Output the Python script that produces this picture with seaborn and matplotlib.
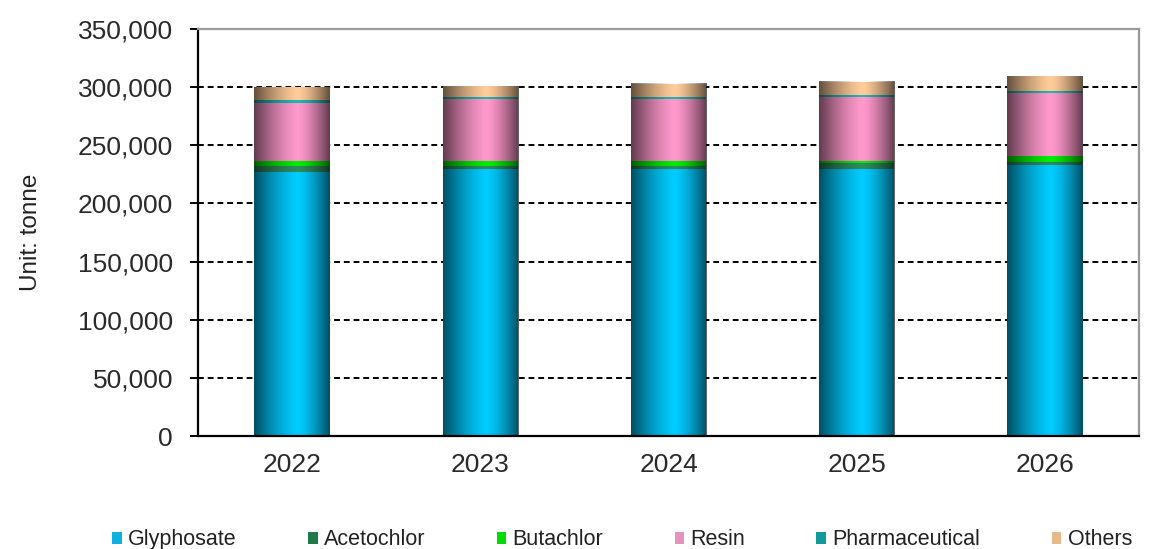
import numpy as np
import pandas as pd
import matplotlib
matplotlib.use("Agg")
import matplotlib.pyplot as plt
import seaborn as sns
from matplotlib.patches import Patch
from matplotlib.ticker import FuncFormatter

years = ["2022", "2023", "2024", "2025", "2026"]
glyphosate = [227300, 229600, 229300, 229300, 233000]
acetochlor = [5200, 2900, 3200, 5200, 3000]
butachlor = [4300, 4300, 4300, 2300, 4800]
resin = [50000, 52800, 52800, 54500, 54500]
pharmaceutical = [2000, 1700, 1700, 2000, 1700]
others = [11000, 9700, 11700, 11500, 12600]

series_names = ["Glyphosate", "Acetochlor", "Butachlor", "Resin", "Pharmaceutical", "Others"]
series_vals = [glyphosate, acetochlor, butachlor, resin, pharmaceutical, others]
colors = ["#00CCFF", "#2E8B5E", "#00EE00", "#FF99CC", "#22B5B5", "#FFCC99"]
legend_colors = ["#0fb0e0", "#1f7a4a", "#00dd00", "#e890c0", "#129a9a", "#e8b888"]

sns.set_theme(style="white")
plt.rcParams["font.family"] = ["Liberation Sans", "DejaVu Sans"]

fig = plt.figure(figsize=(11.52, 5.49), dpi=100)
ax = fig.add_axes([0.1719, 0.2058, 0.8168, 0.7412])

cum = np.zeros(len(years))
cums = []
for vals in series_vals:
    cum = cum + np.array(vals, dtype=float)
    cums.append(cum.copy())

# draw from top cumulative to bottom so lower segments overlay
for name, c, color in reversed(list(zip(series_names, cums, colors))):
    d = pd.DataFrame({"year": years, "value": c})
    sns.barplot(data=d, x="year", y="value", color=color, width=0.4,
                ax=ax, saturation=1, edgecolor="none", linewidth=0, zorder=2)

ax.set_xlim(-0.5, len(years) - 0.5)
ax.set_ylim(0, 350000)

# cylinder-like shading overlay
t = np.linspace(0, 1, 200)
c0 = 0.58
dist = np.where(t < c0, (c0 - t) / c0, (t - c0) / (1 - c0))
alpha = 0.62 * dist ** 1.4
grad = np.zeros((1, len(t), 4))
grad[0, :, 3] = alpha
totals = cums[-1]
for i, tot in enumerate(totals):
    ax.imshow(grad, extent=[i - 0.2, i + 0.2, 0, tot], aspect="auto",
              zorder=3, interpolation="bilinear")
ax.set_xlim(-0.5, len(years) - 0.5)
ax.set_ylim(0, 350000)
ax.set_aspect("auto")

ax.set_yticks(np.arange(0, 350001, 50000))
ax.yaxis.set_major_formatter(FuncFormatter(lambda v, p: f"{int(v):,}"))
ax.yaxis.grid(True, linestyle=(0, (3, 2)), color="black", linewidth=1.4)
ax.set_axisbelow(True)
ax.xaxis.grid(False)

ax.set_xlabel("")
ax.set_ylabel("Unit: tonne", fontsize=17.5, color="#222222", labelpad=26)
ax.tick_params(axis="y", which="both", left=True, length=6, width=1.4,
               direction="out", labelsize=19, labelcolor="#2a2a2a", pad=12, color="black")
ax.tick_params(axis="x", length=0, labelsize=19, labelcolor="#2a2a2a", pad=12)

for side in ["left", "bottom"]:
    ax.spines[side].set_color("black")
    ax.spines[side].set_linewidth(1.6)
for side in ["top", "right"]:
    ax.spines[side].set_color("#9a9a9a")
    ax.spines[side].set_linewidth(1.6)

handles = [Patch(facecolor=lc, edgecolor="none") for lc in legend_colors]
fig.legend(handles, series_names, loc="lower center", bbox_to_anchor=(0.54, -0.038),
           ncol=6, frameon=False, fontsize=15.5, handlelength=0.45, handleheight=0.45,
           handletextpad=0.3, columnspacing=3.3, labelcolor="#222222")

fig.savefig("out.png", dpi=100)
